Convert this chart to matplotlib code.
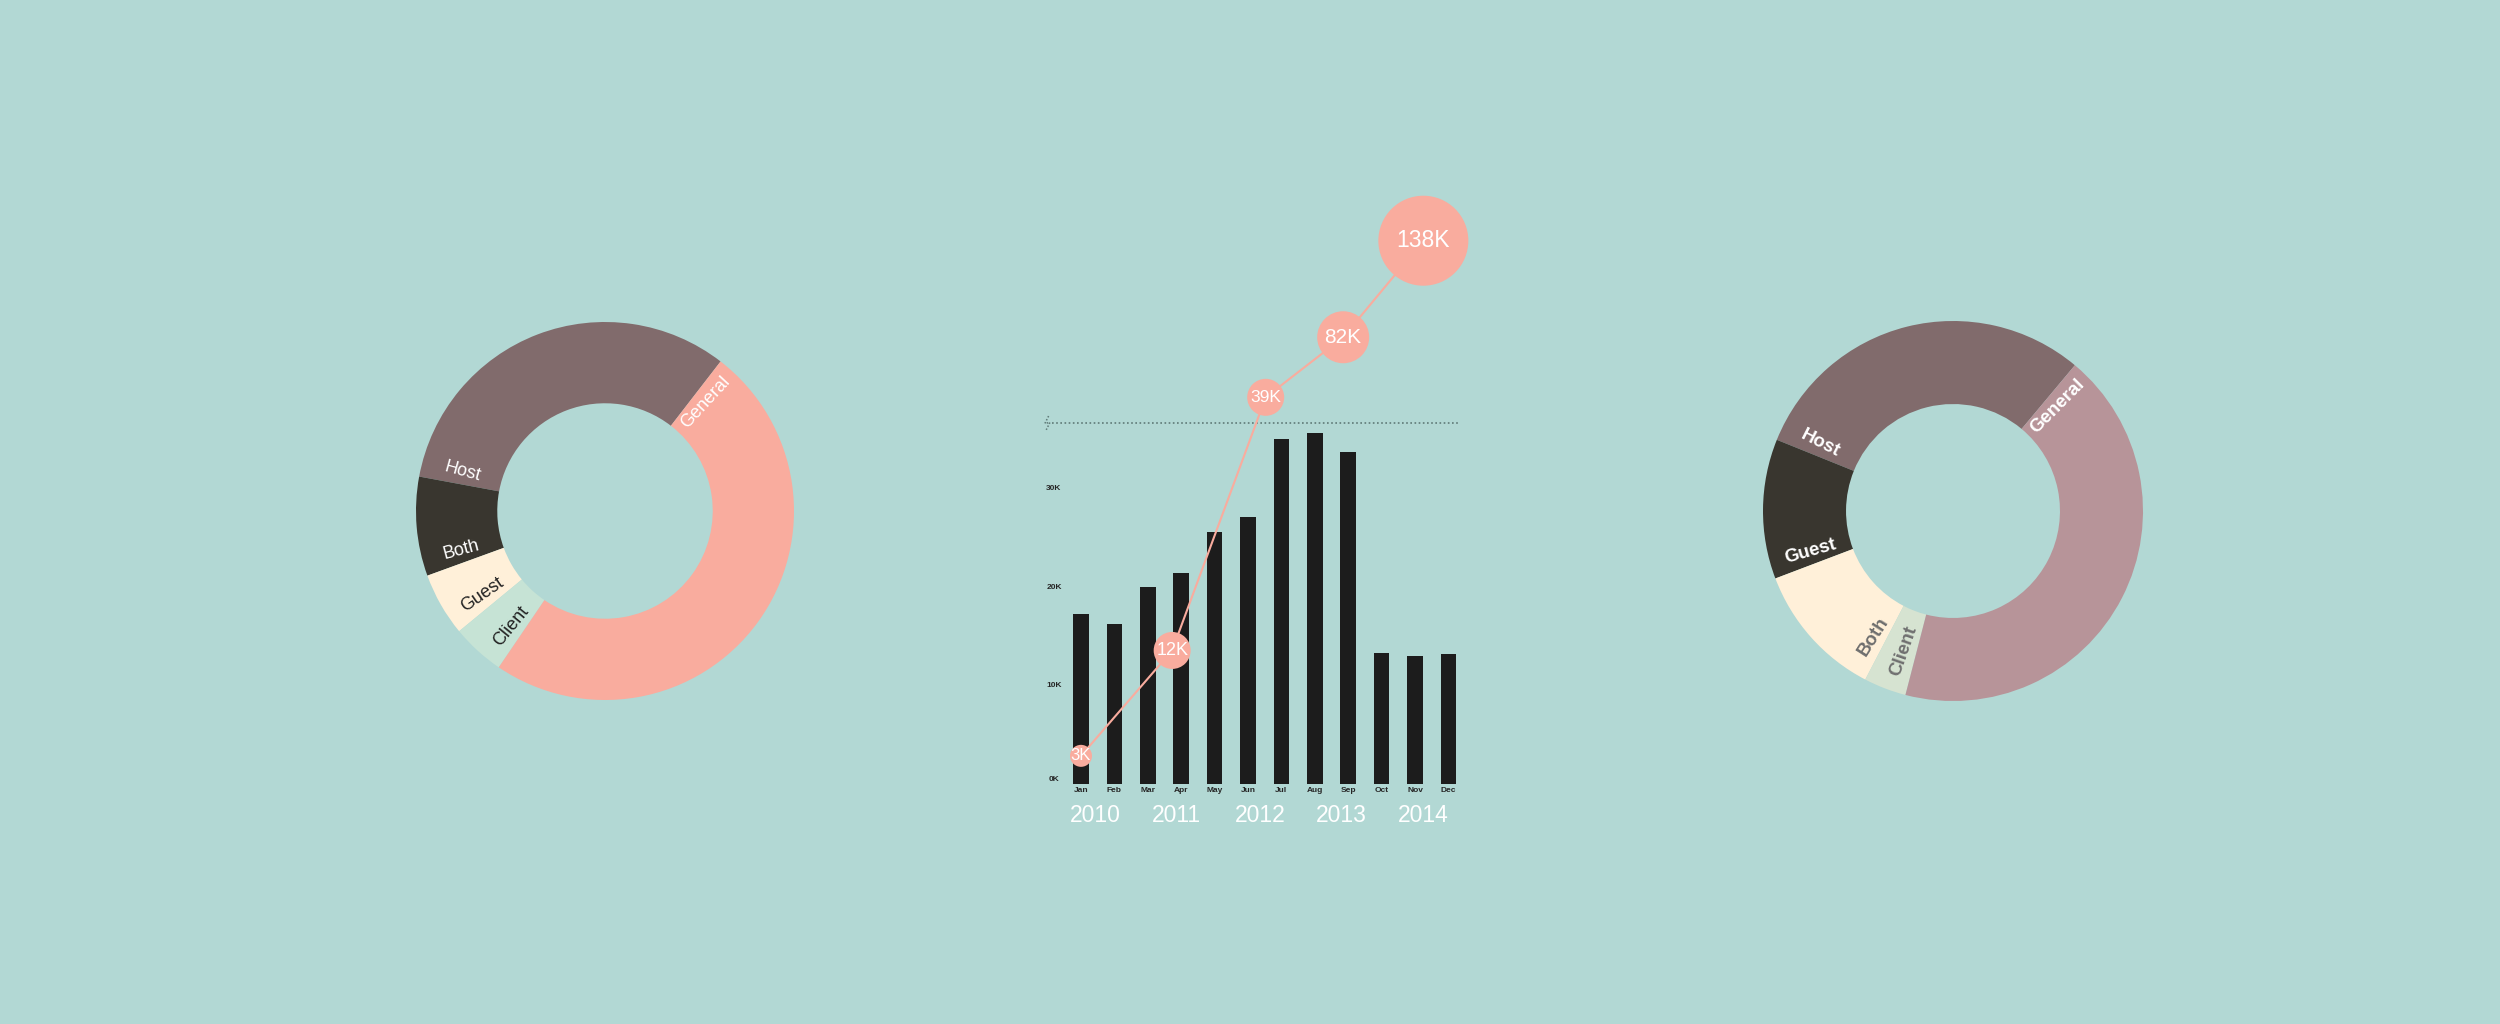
import numpy as np
import matplotlib.pyplot as plt

plt.rcParams['font.family'] = ['Liberation Sans', 'DejaVu Sans']

# ---- data ----
months = ['Jan', 'Feb', 'Mar', 'Apr', 'May', 'Jun',
          'Jul', 'Aug', 'Sep', 'Oct', 'Nov', 'Dec']
monthly_k = [17.3, 16.3, 20.0, 21.5, 25.6, 27.1, 35.1, 35.7, 33.7, 13.3, 13.0, 13.2]
ytick_k = [0, 10, 20, 30]

years = ['2010', '2011', '2012', '2013', '2014']
year_x = [0.44, 2.87, 5.36, 7.78, 10.25]          # along the month axis

growth_labels = ['3K', '12K', '39K', '82K', '138K']
growth_k = [3, 12, 39, 82, 138]
growth_x = [0.0, 2.73, 5.53, 7.85, 10.25]
growth_axis_k = [2.9, 13.6, 39.3, 45.4, 55.2]     # height on the broken axis
break_k = 36.7

left_labels = ['Host', 'Both', 'Guest', 'Client', 'General']
left_share = [117.2, 30.5, 19.5, 16.3, 176.5]      # degrees
right_labels = ['Host', 'Guest', 'Both', 'Client', 'General']
right_share = [107.9, 42.8, 41.7, 13.0, 154.6]

# ---- style ----
bg = '#b2d8d4'
salmon = '#f9ac9e'
mauve = '#816b6c'
dark = '#39362f'
cream = '#fff0d9'
W, H = 2500, 1024

fig = plt.figure(figsize=(W / 100, H / 100), dpi=100, facecolor=bg)


def donut(cx, cy, r, width, shares, labels, colors, tcolors, start, weight, fsize):
    half = 230
    ax = fig.add_axes([(cx - half) / W, (H - cy - half) / H, 2 * half / W, 2 * half / H])
    ax.set_facecolor(bg)
    wedges, _ = ax.pie(shares, colors=colors, startangle=start, counterclock=True,
                       radius=1, wedgeprops=dict(width=width, linewidth=0))
    lim = half / r
    ax.set_xlim(-lim, lim)
    ax.set_ylim(-lim, lim)
    ax.set_aspect('equal')
    for w, lab, tc in zip(wedges, labels, tcolors):
        ang = w.theta2 - 5
        rr = 1 - width / 2
        rot = ang % 360
        if 90 < rot < 270:
            rot -= 180
        ax.text(rr * np.cos(np.radians(ang)), rr * np.sin(np.radians(ang)), lab,
                rotation=rot, rotation_mode='anchor', ha='center', va='center',
                color=tc, fontsize=fsize, fontweight=weight)


donut(605, 511, 189, 0.43, left_share, left_labels,
      [mauve, dark, cream, '#c6e3d5', salmon],
      ['white', 'white', '#222222', '#222222', 'white'], 52.3, 'normal', 13)
donut(1953, 511, 190, 0.437, right_share, right_labels,
      [mauve, dark, cream, '#d6e3d1', '#b79499'],
      ['white', 'white', '#6e6e6e', '#707070', 'white'], 50.1, 'bold', 13.5)

# ---- centre bar / growth chart ----
ax = fig.add_axes([1000 / W, (H - 850) / H, 500 / W, 700 / H])
ax.set_xlim(-2.425, 12.545)
ax.set_ylim(-6.66, 64.41)
ax.axis('off')

x = np.arange(len(months))
ax.bar(x, monthly_k, width=0.47, color='#1c1c1c', zorder=2)
for i, m in enumerate(months):
    ax.text(i, -0.65, m, ha='center', va='center', fontsize=6, fontweight='bold',
            color='#262626')
for t in ytick_k:
    ax.text(-0.81, t + (0.5 if t == 0 else 0), '%dK' % t, ha='center', va='center',
            fontsize=6, fontweight='bold', color='#262626')
for xx, yr in zip(year_x, years):
    ax.text(xx, -3.14, yr, ha='center', va='center', fontsize=16.5, color='white')

# broken-axis marker
ax.plot([-0.87, 11.29], [break_k, break_k], ls=(0, (1, 1.5)), color='#5f7a77', lw=1.2, zorder=1)
ax.plot([-0.97, -1.08, -0.93, -1.04], [break_k + 0.7, break_k - 0.05, break_k + 0.05, break_k - 0.7],
        ls=(0, (1, 1.2)), color='#5f7a77', lw=1.1, zorder=1)

bubble_px = np.array([22, 37, 37, 52, 90])
bubble_fs = [12, 13, 12.5, 15, 16.5]
ax.plot(growth_x, growth_axis_k, color=salmon, lw=1.5, zorder=3)
ax.scatter(growth_x, growth_axis_k, s=(bubble_px * 0.72) ** 2, color=salmon,
           linewidths=0, zorder=4)
for gx, gy, lab, fs in zip(growth_x, growth_axis_k, growth_labels, bubble_fs):
    ax.text(gx, gy, lab, ha='center', va='center', fontsize=fs, color='white', zorder=5)

fig.savefig('out.png', dpi=100, facecolor=bg)
